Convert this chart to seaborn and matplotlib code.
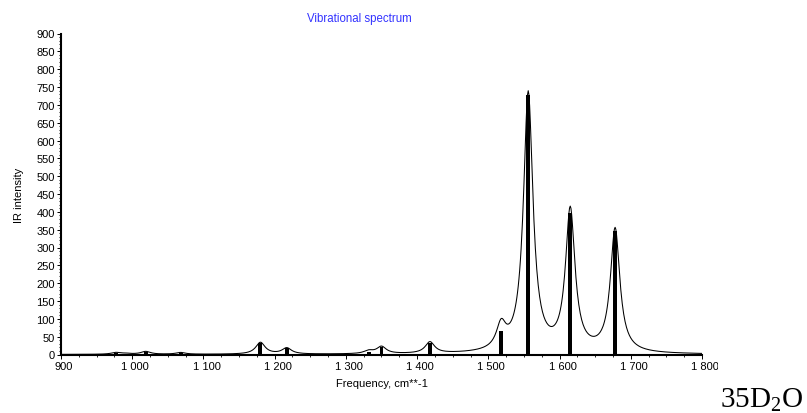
import numpy as np
import pandas as pd
import seaborn as sns
import matplotlib
matplotlib.use("Agg")
import matplotlib.pyplot as plt
from matplotlib.ticker import MultipleLocator, FuncFormatter
from matplotlib.transforms import Bbox, TransformedBbox, ScaledTranslation

# Computed normal modes: frequency (cm**-1) and IR intensity
frequencies = [977, 991, 1019, 1068, 1180, 1217, 1332, 1350, 1418, 1518, 1556, 1615, 1678]
intensities = [5, 2, 8, 5, 33, 17, 8, 20, 32, 66, 728, 397, 347]

# Lorentzian half-width used to broaden the stick spectrum
half_width = 8.0

x_ticks = [900, 1000, 1100, 1200, 1300, 1400, 1500, 1600, 1700, 1800]
y_ticks = list(range(0, 901, 50))

sns.set_theme(style="ticks")
plt.rcParams["font.family"] = ["Liberation Sans", "DejaVu Sans"]
plt.rcParams["mathtext.fontset"] = "custom"
plt.rcParams["mathtext.rm"] = "Liberation Serif"

sticks = pd.DataFrame({"freq": frequencies, "ir": intensities})

# Broadened spectrum built from the sticks
grid = np.arange(900.0, 1800.5, 1.0)
f = sticks["freq"].to_numpy()[:, None]
a = sticks["ir"].to_numpy()[:, None]
spectrum = (a * half_width**2 / ((grid[None, :] - f) ** 2 + half_width**2)).sum(axis=0)
curve = pd.DataFrame({"freq": grid, "ir": spectrum})

W, H = 807, 414
fig = plt.figure(figsize=(W / 100, H / 100), dpi=100)
ax = fig.add_axes([61 / W, 1 - 355.5 / H, 641 / W, 321 / H])

ax.bar(sticks["freq"], sticks["ir"], width=5.5, color="black", linewidth=0)
sns.lineplot(data=curve, x="freq", y="ir", ax=ax, color="black", linewidth=0.75)

ax.set_xlim(900, 1800)
ax.set_ylim(0, 900)
ax.set_xticks(x_ticks)
ax.set_yticks(y_ticks)
ax.xaxis.set_minor_locator(MultipleLocator(25))
ax.yaxis.set_minor_locator(MultipleLocator(10))
ax.xaxis.set_major_formatter(FuncFormatter(lambda v, p: f"{v:,.0f}".replace(",", " ")))

for side in ("top", "right"):
    ax.spines[side].set_visible(False)
for side in ("left", "bottom"):
    ax.spines[side].set_linewidth(1.5)
    ax.spines[side].set_color("black")

ax.tick_params(axis="both", which="major", length=3, width=0.7, pad=1.5,
               labelsize=8, colors="black")
ax.tick_params(axis="both", which="minor", length=1.6, width=0.6, colors="black")

ax.set_xlabel("Frequency, cm**-1", fontsize=8, color="black")
ax.set_ylabel("IR intensity", fontsize=8, color="black")
ax.xaxis.set_label_coords(0.5, -0.073)
ax.yaxis.set_label_coords(-0.058, 0.5)

fig.text(359 / W, 1 - 19 / H, "Vibrational spectrum", color="#3333ff",
         fontsize=8.3, ha="center", va="center")

fig.text(720 / W, 1 - 408 / H, r"$\mathrm{35D_2O}$", fontsize=21,
         ha="left", va="baseline", color="black")

# Frequency labels sit slightly right of their ticks; the last one is cut
# at the edge of the drawing area
shift = ScaledTranslation(3 / 100, 0, fig.dpi_scale_trans)
major_ticks = ax.xaxis.get_major_ticks()
for tick in major_ticks:
    tick.label1.set_transform(tick.label1.get_transform() + shift)
last_label = major_ticks[-1].label1
last_label.set_clip_box(TransformedBbox(Bbox([[0, 0], [718 / W, 1]]), fig.transFigure))
last_label.set_clip_on(True)

fig.savefig("out.png", dpi=100, facecolor="white")
